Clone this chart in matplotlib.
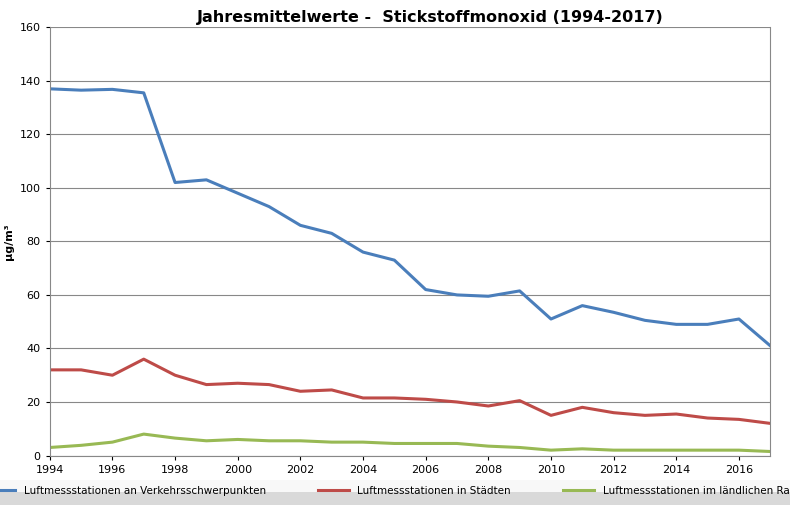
import matplotlib
matplotlib.use('Agg')
import matplotlib.pyplot as plt

years = list(range(1994, 2018))
verkehr = [137, 136.5, 136.8, 135.5, 102, 103, 98, 93, 86, 83, 76, 73, 62, 60, 59.5, 61.5,
           51, 56, 53.5, 50.5, 49, 49, 51, 41]
staedte = [32, 32, 30, 36, 30, 26.5, 27, 26.5, 24, 24.5, 21.5, 21.5, 21, 20, 18.5, 20.5,
           15, 18, 16, 15, 15.5, 14, 13.5, 12]
laendlich = [3, 3.8, 5, 8, 6.5, 5.5, 6, 5.5, 5.5, 5, 5, 4.5, 4.5, 4.5, 3.5, 3,
             2, 2.5, 2, 2, 2, 2, 2, 1.5]

fig = plt.figure(figsize=(7.9, 5.05), dpi=100)
ax = fig.add_axes([0.063, 0.098, 0.912, 0.848])

ax.plot(years, verkehr, color='#4a7ebb', lw=2.2, label='Luftmessstationen an Verkehrsschwerpunkten')
ax.plot(years, staedte, color='#be4b48', lw=2.2, label='Luftmessstationen in Städten')
ax.plot(years, laendlich, color='#98b954', lw=2.2, label='Luftmessstationen im ländlichen Raum')

ax.set_xlim(1994, 2017)
ax.set_ylim(0, 160)
ax.set_xticks(range(1994, 2017, 2))
ax.set_yticks(range(0, 161, 20))
ax.tick_params(labelsize=8, length=3)
ax.grid(axis='y', color='#888888', lw=0.8)
ax.set_axisbelow(True)
ax.spines['top'].set_visible(False)
for s in ['left', 'bottom', 'right']:
    ax.spines[s].set_color('#888888')
ax.set_ylabel('µg/m³', fontsize=8, fontweight='bold')
fig.text(0.545, 0.965, 'Jahresmittelwerte -  Stickstoffmonoxid (1994-2017)',
         ha='center', va='center', fontsize=11.5, fontweight='bold')

# gray band behind legend
band = fig.add_axes([0, 0, 1, 0.05], zorder=-1)
band.imshow([[0.97], [0.85]], cmap='gray', vmin=0, vmax=1, aspect='auto', extent=[0, 1, 0, 1])
band.axis('off')
fig.legend(loc='lower center', bbox_to_anchor=(0.5, 0.0), ncol=3, frameon=False,
           fontsize=7.5, handlelength=3, columnspacing=5)

fig.savefig('out.png', dpi=100)
